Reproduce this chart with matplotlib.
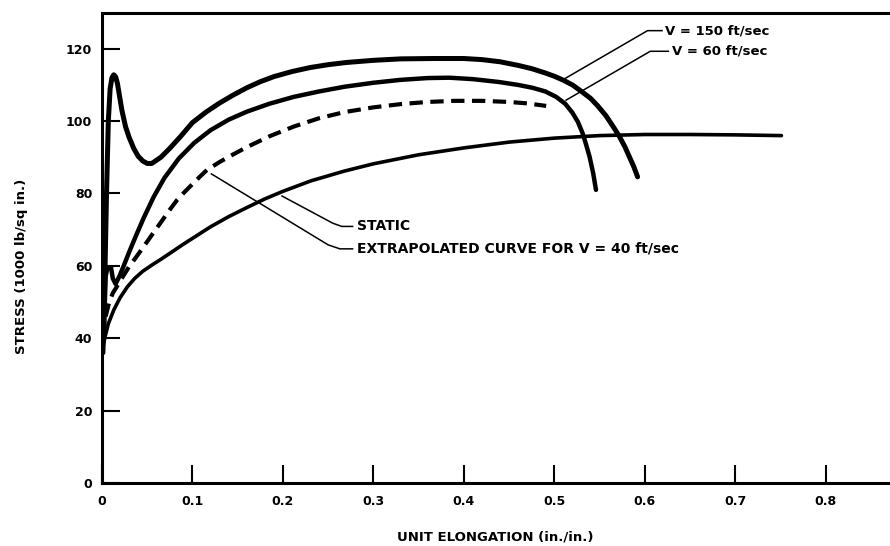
import matplotlib.pyplot as plt

# curves (elongation in./in., stress 1000 lb/sq in.)
v150_x = [0.001, 0.003, 0.005, 0.007, 0.009, 0.011, 0.013, 0.015, 0.017, 0.019,
          0.022, 0.026, 0.030, 0.035, 0.040, 0.045, 0.050, 0.055, 0.065, 0.075,
          0.087, 0.100, 0.115, 0.130, 0.145, 0.160, 0.175, 0.190, 0.210, 0.230,
          0.250, 0.270, 0.300, 0.330, 0.365, 0.400, 0.420, 0.440, 0.460, 0.475,
          0.490, 0.500, 0.510, 0.520, 0.530, 0.540, 0.548, 0.557, 0.565, 0.572,
          0.578, 0.583, 0.588, 0.592]
v150_y = [36, 55, 80, 100, 109, 112, 112.8, 112.3, 110.5, 107.5,
          103, 98.5, 95.5, 92.5, 90.3, 89, 88.3, 88.3, 90, 92.5,
          95.8, 99.6, 102.5, 105, 107.2, 109.2, 110.9, 112.3, 113.7, 114.8,
          115.6, 116.2, 116.8, 117.2, 117.3, 117.3, 117, 116.4, 115.4, 114.5,
          113.3, 112.4, 111.3, 110, 108.2, 106.3, 104.2, 101.5, 98.5, 95.7,
          92.9, 90.1, 87.3, 84.6]

v60_x = [0.002, 0.004, 0.006, 0.010, 0.012, 0.015, 0.019, 0.024, 0.030, 0.037,
         0.046, 0.057, 0.069, 0.085, 0.102, 0.120, 0.140, 0.160, 0.185, 0.212,
         0.240, 0.268, 0.300, 0.330, 0.360, 0.384, 0.410, 0.439, 0.460, 0.476,
         0.490, 0.502, 0.512, 0.520, 0.526, 0.531, 0.535, 0.539, 0.543, 0.546]
v60_y = [40, 57, 59.5, 59.5, 56.5, 55, 57, 60, 63.8, 68,
         73.2, 79, 84.3, 89.7, 94, 97.5, 100.4, 102.6, 104.8, 106.7,
         108.2, 109.5, 110.6, 111.4, 111.9, 112, 111.6, 110.8, 110, 109.2,
         108.2, 106.7, 104.8, 102.3, 99.8, 96.8, 93.6, 90.1, 85.5, 81]

v40_x = [0.004, 0.008, 0.012, 0.017, 0.023, 0.030, 0.038, 0.046, 0.055, 0.065,
         0.074, 0.083, 0.092, 0.100, 0.108, 0.116, 0.130, 0.145, 0.160, 0.185,
         0.212, 0.240, 0.268, 0.300, 0.330, 0.360, 0.390, 0.420, 0.450, 0.470,
         0.491]
v40_y = [46, 50, 52.5, 54.5, 57, 59.8, 62.5, 65.3, 68.5, 72,
         75.2, 78.2, 80.6, 82.6, 84.6, 86.5, 88.7, 90.8, 92.8, 95.8,
         98.5, 100.8, 102.5, 103.8, 104.7, 105.3, 105.6, 105.6, 105.3, 104.9,
         104.2]

static_x = [0.0, 0.003, 0.007, 0.013, 0.020, 0.028, 0.036, 0.045, 0.055, 0.065,
            0.077, 0.090, 0.105, 0.120, 0.140, 0.160, 0.180, 0.200, 0.231, 0.268,
            0.300, 0.350, 0.400, 0.450, 0.500, 0.550, 0.600, 0.650, 0.700, 0.751]
static_y = [36, 40, 44, 47.8, 51.2, 54.2, 56.5, 58.5, 60.2, 61.8,
            63.8, 66, 68.4, 70.8, 73.6, 76.1, 78.5, 80.6, 83.5, 86.2,
            88.2, 90.7, 92.6, 94.2, 95.3, 96, 96.3, 96.3, 96.2, 96.0]

x_ticks = [0, 0.1, 0.2, 0.3, 0.4, 0.5, 0.6, 0.7, 0.8]
x_labels = ['0', '0.1', '0.2', '0.3', '0.4', '0.5', '0.6', '0.7', '0.8']
y_ticks = [0, 20, 40, 60, 80, 100, 120]

plt.rcParams['font.family'] = ['DejaVu Sans']
plt.rcParams['font.weight'] = 'bold'

fig = plt.figure(figsize=(8.9, 5.46), dpi=100)
ax = fig.add_axes([0.1146, 0.1154, 0.8854, 0.8616])

ax.plot(v150_x, v150_y, color='black', lw=3.6, solid_capstyle='round', solid_joinstyle='round')
ax.plot(v60_x, v60_y, color='black', lw=3.2, solid_capstyle='round', solid_joinstyle='round')
ax.plot(v40_x, v40_y, color='black', lw=3.0, dashes=(3.2, 1.8))
ax.plot(static_x, static_y, color='black', lw=2.6, solid_capstyle='round', solid_joinstyle='round')

# leader lines to the curve labels
lead = dict(color='black', lw=1.1)
ax.plot([0.512, 0.603, 0.619], [111.8, 125.0, 125.0], **lead)
ax.plot([0.513, 0.606, 0.626], [105.8, 119.3, 119.3], **lead)
ax.plot([0.199, 0.255, 0.265, 0.277], [79.3, 71.8, 70.9, 70.9], **lead)
ax.plot([0.121, 0.250, 0.263, 0.277], [85.4, 65.8, 64.7, 64.7], **lead)

ax.text(0.622, 125.0, 'V = 150 ft/sec', fontsize=9.5, va='center')
ax.text(0.630, 119.3, 'V = 60 ft/sec', fontsize=9.5, va='center')
ax.text(0.2815, 70.9, 'STATIC', fontsize=10, va='center')
ax.text(0.2815, 64.7, 'EXTRAPOLATED CURVE FOR V = 40 ft/sec', fontsize=10, va='center')

ax.set_xlim(0, 0.871)
ax.set_ylim(0, 130)
ax.set_xticks(x_ticks)
ax.set_xticklabels(x_labels)
ax.set_yticks(y_ticks)
ax.tick_params(axis='both', direction='in', length=13, width=1.5, labelsize=9)
ax.tick_params(axis='x', pad=9)
ax.tick_params(axis='y', pad=7)

for side in ['left', 'top', 'bottom']:
    ax.spines[side].set_linewidth(2.2)
ax.spines['right'].set_visible(False)

fig.text(0.557, 0.0165, 'UNIT ELONGATION (in./in.)', ha='center', va='center', fontsize=9.5)
fig.text(0.024, 0.513, 'STRESS (1000 lb/sq in.)', ha='center', va='center', rotation=90, fontsize=9.5)

fig.savefig('out.png', dpi=100)
